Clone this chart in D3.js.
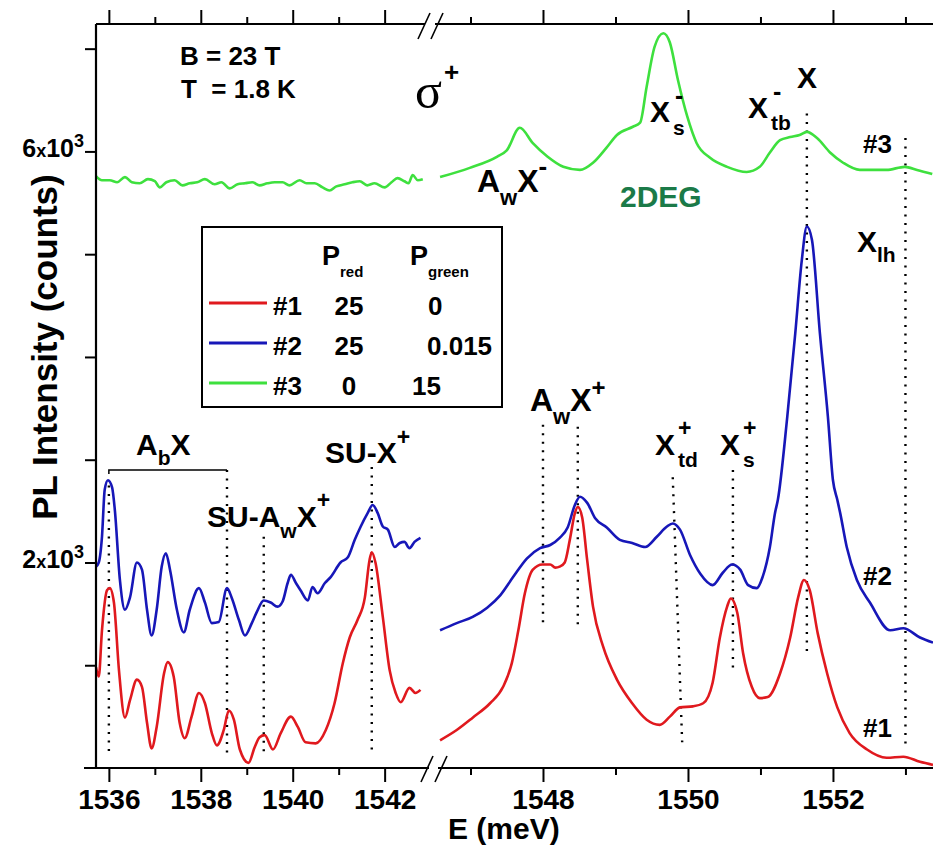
<!DOCTYPE html>
<html>
<head>
<meta charset="utf-8">
<script src="https://cdn.jsdelivr.net/npm/d3@7"></script>
<style>
  body { margin: 0; background: #fff; }
  text { font-family: "Liberation Sans", Arial, sans-serif; font-weight: bold; fill: #000; }
  .axis line { stroke: #000; stroke-width: 2; }
  .axis path { display: none; }
</style>
</head>
<body>
<div id="chart"></div>
<script>
// spectra, [E (meV), PL counts], low-energy window (1535.7 - 1542.9 meV)
var leftRed = [[1535.72,980],[1535.78,890],[1535.85,1340],[1535.96,1730],[1536.02,1750],[1536.11,1610],[1536.22,950],
  [1536.35,490],[1536.46,660],[1536.61,860],[1536.72,790],[1536.83,440],[1536.93,190],[1537.04,400],[1537.20,920],
  [1537.28,1030],[1537.41,890],[1537.54,440],[1537.65,290],[1537.80,500],[1537.96,730],[1538.09,630],[1538.24,340],
  [1538.35,220],[1538.50,370],[1538.61,560],[1538.72,470],[1538.85,180],[1539.04,50],[1539.17,200],[1539.28,300],
  [1539.39,320],[1539.57,180],[1539.74,340],[1539.96,500],[1540.11,400],[1540.28,250],[1540.50,240],[1540.72,370],
  [1540.91,630],[1541.09,1020],[1541.24,1270],[1541.41,1440],[1541.57,1660],[1541.67,2020],[1541.72,2100],
  [1541.80,2000],[1541.96,1470],[1542.11,950],[1542.24,730],[1542.35,640],[1542.54,780],[1542.67,730],[1542.78,760]];
var leftBlue = [[1535.72,1960],[1535.78,2000],[1535.85,2250],[1535.91,2710],[1535.98,2800],[1536.07,2730],[1536.13,2510],
  [1536.24,1830],[1536.35,1540],[1536.46,1660],[1536.61,2000],[1536.72,1930],[1536.83,1540],[1536.93,1290],
  [1537.04,1540],[1537.15,1960],[1537.24,2090],[1537.33,1930],[1537.48,1540],[1537.63,1320],[1537.76,1540],
  [1537.96,1750],[1538.09,1610],[1538.24,1410],[1538.39,1420],[1538.57,1750],[1538.67,1660],[1538.83,1440],
  [1538.96,1290],[1539.11,1410],[1539.22,1520],[1539.37,1630],[1539.52,1610],[1539.67,1570],[1539.78,1620],
  [1539.89,1800],[1539.96,1880],[1540.07,1800],[1540.17,1730],[1540.33,1630],[1540.43,1760],[1540.54,1700],
  [1540.70,1800],[1540.83,1860],[1541.04,2000],[1541.20,2050],[1541.35,2220],[1541.48,2350],[1541.63,2480],
  [1541.74,2560],[1541.85,2480],[1541.96,2350],[1542.07,2320],[1542.22,2150],[1542.33,2190],[1542.43,2200],
  [1542.54,2140],[1542.65,2200],[1542.78,2240]];
var leftGreen = [[1535.72,5760],[1535.85,5720],[1536.02,5720],[1536.18,5700],[1536.35,5750],[1536.50,5700],[1536.67,5690],
  [1536.85,5730],[1537.00,5710],[1537.11,5650],[1537.25,5700],[1537.43,5720],[1537.60,5670],[1537.76,5690],
  [1537.92,5700],[1538.09,5730],[1538.30,5680],[1538.45,5700],[1538.63,5640],[1538.80,5680],[1538.96,5690],
  [1539.12,5700],[1539.28,5670],[1539.45,5690],[1539.61,5700],[1539.78,5700],[1539.93,5670],[1540.15,5720],
  [1540.30,5690],[1540.48,5690],[1540.65,5650],[1540.80,5620],[1540.95,5660],[1541.13,5680],[1541.30,5700],
  [1541.46,5710],[1541.62,5670],[1541.78,5690],[1542.00,5650],[1542.15,5700],[1542.28,5740],[1542.43,5710],
  [1542.52,5690],[1542.61,5770],[1542.72,5720],[1542.83,5730]];

// high-energy window (1546.6 - 1553.4 meV)
var rightRed = [[1546.58,270],[1546.81,370],[1547.03,490],[1547.27,630],[1547.45,790],[1547.57,1020],[1547.66,1340],
  [1547.75,1700],[1547.86,1930],[1547.99,1980],[1548.10,1980],[1548.17,1950],[1548.23,1960],[1548.30,2000],
  [1548.37,2220],[1548.44,2480],[1548.48,2540],[1548.54,2440],[1548.61,2020],[1548.69,1570],[1548.83,1180],
  [1549.02,860],[1549.23,630],[1549.43,470],[1549.61,420],[1549.75,500],[1549.89,590],[1550.07,600],[1550.21,630],
  [1550.34,830],[1550.44,1270],[1550.54,1570],[1550.59,1650],[1550.68,1510],[1550.76,1120],[1550.88,790],
  [1550.99,680],[1551.10,690],[1551.27,920],[1551.41,1270],[1551.52,1660],[1551.60,1830],[1551.68,1730],
  [1551.79,1310],[1551.92,920],[1552.06,590],[1552.23,340],[1552.47,180],[1552.74,100],[1552.97,110],
  [1553.20,60],[1553.38,30]];
var rightBlue = [[1546.58,1340],[1546.81,1410],[1547.03,1470],[1547.23,1560],[1547.41,1680],[1547.59,1860],
  [1547.78,2040],[1547.96,2140],[1548.10,2170],[1548.23,2240],[1548.34,2340],[1548.44,2560],[1548.51,2640],
  [1548.61,2580],[1548.72,2430],[1548.88,2340],[1549.06,2220],[1549.23,2190],[1549.41,2150],[1549.57,2250],
  [1549.71,2350],[1549.79,2380],[1549.89,2320],[1550.03,2070],[1550.17,1890],[1550.34,1780],[1550.48,1900],
  [1550.61,1980],[1550.72,1930],[1550.83,1780],[1550.95,1750],[1551.03,1860],[1551.13,2150],[1551.20,2480],
  [1551.24,2610],[1551.37,3420],[1551.48,4230],[1551.57,4940],[1551.64,5270],[1551.71,5140],[1551.82,4230],
  [1551.93,3420],[1552.00,2800],[1552.06,2610],[1552.10,2480],[1552.19,2150],[1552.33,1830],[1552.51,1610],
  [1552.79,1340],[1552.97,1360],[1553.20,1270],[1553.38,1220]];
var rightGreen = [[1546.58,5750],[1546.99,5840],[1547.37,5950],[1547.50,6010],[1547.68,6230],[1547.86,6080],
  [1548.06,5950],[1548.28,5850],[1548.51,5820],[1548.69,5890],[1548.88,6040],[1549.02,6160],[1549.24,6240],
  [1549.34,6280],[1549.43,6630],[1549.54,7020],[1549.66,7150],[1549.75,7060],[1549.86,6700],[1549.99,6340],
  [1550.12,6080],[1550.30,5940],[1550.54,5850],[1550.81,5800],[1550.99,5850],[1551.13,5990],[1551.27,6110],
  [1551.41,6140],[1551.54,6160],[1551.64,6190],[1551.78,6130],[1551.96,5990],[1552.14,5890],[1552.37,5820],
  [1552.74,5820],[1552.99,5850],[1553.16,5820],[1553.37,5780]];

// axis ticks
var leftMajor = [1536, 1538, 1540, 1542], leftMinor = [1537, 1539, 1541];
var rightMajor = [1548, 1550, 1552], rightMinor = [1547, 1549, 1551, 1553];
var yTicks = [1000, 2000, 3000, 4000, 5000, 6000, 7000];
var yLabelled = [2000, 6000];

// legend table
var legendNames = ["#1", "#2", "#3"];
var legendPred = ["25", "25", "0"];
var legendPgreen = ["0", "0.015", "15"];
var colors = {red: "#e0191e", blue: "#1717b8", green: "#3ee03e"};
var legendColors = [colors.red, colors.blue, colors.green];

// dotted guide lines: [E top, counts top, E bottom, counts bottom]
var guidesLeft = [[1536.0,2750,1536.0,130],[1538.57,2900,1538.57,150],[1539.37,2250,1539.37,160],[1541.72,2930,1541.72,180]];
var guidesRight = [[1548.0,3340,1548.0,1370],[1548.48,3320,1548.48,1360],[1549.79,2830,1549.92,250],
  [1550.62,2900,1550.62,930],[1551.64,6370,1551.64,1130],[1553.0,6130,1553.0,190]];

var W = 933, H = 846;
var svg = d3.select("#chart").append("svg").attr("width", W).attr("height", H);

var xL = d3.scaleLinear().domain([1535.72, 1542.9]).range([96, 426]);
var xR = d3.scaleLinear().domain([1546.6, 1553.38]).range([441.5, 933]);
var y = d3.scaleLinear().domain([0, 7240]).range([768, 24]);

// guides first so curves lie on top
function guides(list, x) {
  svg.append("g").selectAll("line").data(list).enter().append("line")
    .attr("x1", function (d) { return x(d[0]); }).attr("y1", function (d) { return y(d[1]); })
    .attr("x2", function (d) { return x(d[2]); }).attr("y2", function (d) { return y(d[3]); })
    .attr("stroke", "#000").attr("stroke-width", 2.4).attr("stroke-dasharray", "2,6.5");
}
guides(guidesLeft, xL);
guides(guidesRight, xR);

// AbX bracket
svg.append("path")
  .attr("d", "M" + xL(1536) + "," + (y(2900) + 4) + "V" + y(2900) + "H" + xL(1538.57))
  .attr("fill", "none").attr("stroke", "#000").attr("stroke-width", 1.5);

function curve(data, x, col) {
  var line = d3.line().x(function (d) { return x(d[0]); }).y(function (d) { return y(d[1]); })
    .curve(d3.curveMonotoneX);
  svg.append("path").datum(data).attr("d", line).attr("fill", "none")
    .attr("stroke", col).attr("stroke-width", 2.6).attr("stroke-linejoin", "round");
}
curve(leftGreen, xL, colors.green);
curve(leftBlue, xL, colors.blue);
curve(leftRed, xL, colors.red);
curve(rightGreen, xR, colors.green);
curve(rightBlue, xR, colors.blue);
curve(rightRed, xR, colors.red);

// axes ---------------------------------------------------------------
function xAxes(x, major, minor) {
  var b = svg.append("g").attr("class", "axis").attr("transform", "translate(0,768)");
  b.call(d3.axisBottom(x).tickValues(major).tickSize(14).tickPadding(7).tickFormat(d3.format("d")));
  b.selectAll("text").style("font-size", "28px");
  svg.append("g").attr("class", "axis").attr("transform", "translate(0,768)")
    .call(d3.axisBottom(x).tickValues(minor).tickSize(7).tickFormat(""));
  svg.append("g").attr("class", "axis").attr("transform", "translate(0,24)")
    .call(d3.axisTop(x).tickValues(major).tickSize(14).tickFormat(""));
  svg.append("g").attr("class", "axis").attr("transform", "translate(0,24)")
    .call(d3.axisTop(x).tickValues(minor).tickSize(7).tickFormat(""));
}
xAxes(xL, leftMajor, leftMinor);
xAxes(xR, rightMajor, rightMinor);

svg.append("g").attr("class", "axis").attr("transform", "translate(96,0)")
  .call(d3.axisLeft(y).tickValues(yTicks).tickSize(11).tickFormat(""));

// frame lines with the axis break
var frame = [[84, 768, 429, 768], [438, 768, 933, 768], [96, 24, 425, 24], [435, 24, 933, 24], [96, 24, 96, 768]];
svg.selectAll(".frame").data(frame).enter().append("line")
  .attr("x1", function (d) { return d[0]; }).attr("y1", function (d) { return d[1]; })
  .attr("x2", function (d) { return d[2]; }).attr("y2", function (d) { return d[3]; })
  .attr("stroke", "#000").attr("stroke-width", 2.2);
var breaks = [[427, 769], [441, 769], [424, 26], [437, 26]];
svg.selectAll(".brk").data(breaks).enter().append("line")
  .attr("x1", function (d) { return d[0] - 6; }).attr("y1", function (d) { return d[1] + 13; })
  .attr("x2", function (d) { return d[0] + 6; }).attr("y2", function (d) { return d[1] - 13; })
  .attr("stroke", "#000").attr("stroke-width", 1.6);

// y tick labels like 6x10^3
yLabelled.forEach(function (v) {
  var t = svg.append("text").attr("x", 84).attr("y", y(v) + 6).attr("text-anchor", "end");
  t.append("tspan").style("font-size", "25px").text(String(v / 1000));
  t.append("tspan").style("font-size", "18px").text("x");
  t.append("tspan").style("font-size", "25px").text("10");
  t.append("tspan").attr("dy", -10).style("font-size", "18px").text("3");
});

svg.append("text").attr("transform", "translate(57,347) rotate(-90)").attr("text-anchor", "middle")
  .style("font-size", "35px").text("PL Intensity (counts)");
svg.append("text").attr("x", 448).attr("y", 839).style("font-size", "30px").text("E (meV)");

// annotations ---------------------------------------------------------
function rich(x, yy, segs, fill) {
  var t = svg.append("text").attr("x", x).attr("y", yy);
  if (fill) t.style("fill", fill);
  segs.forEach(function (s) {
    t.append("tspan").attr("y", yy + (s[2] || 0)).style("font-size", s[1] + "px").text(s[0]);
  });
  return t;
}
rich(180, 65, [["B = 23 T", 26]]);
rich(181, 98, [["T  = 1.8 K", 26]]).style("white-space", "pre");
svg.append("text").attr("x", 415).attr("y", 108).style("font-family", "'Liberation Serif', 'Times New Roman', serif")
  .style("font-weight", "normal").style("font-size", "50px").text("σ");
rich(444, 81, [["+", 26]]);

rich(477, 192, [["A", 32], ["w", 22, 13], ["X", 32, 0], ["-", 26, -17]]);
rich(620, 207, [["2DEG", 30]], "#1b7a48");
rich(650, 122, [["X", 30]]);
rich(673, 135, [["s", 21]]);
rich(675, 104, [["-", 25]]);
rich(748, 118, [["X", 30]]);
rich(771, 130, [["tb", 21]]);
rich(773, 100, [["-", 25]]);
rich(797, 88, [["X", 30]]);
rich(863, 153, [["#3", 26]]);
rich(857, 252, [["X", 30], ["lh", 21, 10]]);
rich(863, 585, [["#2", 26]]);
rich(863, 737, [["#1", 26]]);

rich(530, 411, [["A", 32], ["w", 22, 13], ["X", 32, 0], ["+", 24, -15]]);
rich(655, 455, [["X", 30]]);
rich(678, 436, [["+", 23]]);
rich(678, 467, [["td", 21]]);
rich(720, 455, [["X", 30]]);
rich(743, 436, [["+", 23]]);
rich(743, 467, [["s", 21]]);

rich(136, 455, [["A", 30], ["b", 21, 10], ["X", 30, 0]]);
rich(325, 463, [["SU-X", 30], ["+", 23, -18]]);
rich(207, 527, [["SU-A", 30], ["w", 21, 11], ["X", 30, 0], ["+", 23, -19]]);

// legend --------------------------------------------------------------
var lg = svg.append("g");
lg.append("rect").attr("x", 202).attr("y", 227).attr("width", 300).attr("height", 180)
  .attr("fill", "#fff").attr("stroke", "#000").attr("stroke-width", 2);
rich(322, 265, [["P", 27], ["red", 15, 12]]);
rich(410, 265, [["P", 27], ["green", 15, 12]]);
var greenX = [428, 427, 412];
legendNames.forEach(function (n, i) {
  var ly = 303 + i * 40;
  lg.append("line").attr("x1", 209).attr("x2", 267).attr("y1", ly).attr("y2", ly)
    .attr("stroke", legendColors[i]).attr("stroke-width", 3);
  rich(273, ly + 12, [[n, 26]]);
  rich(349, ly + 12, [[legendPred[i], 26]]).attr("text-anchor", "middle");
  rich(greenX[i], ly + 12, [[legendPgreen[i], 26]]);
});
</script>
</body>
</html>
